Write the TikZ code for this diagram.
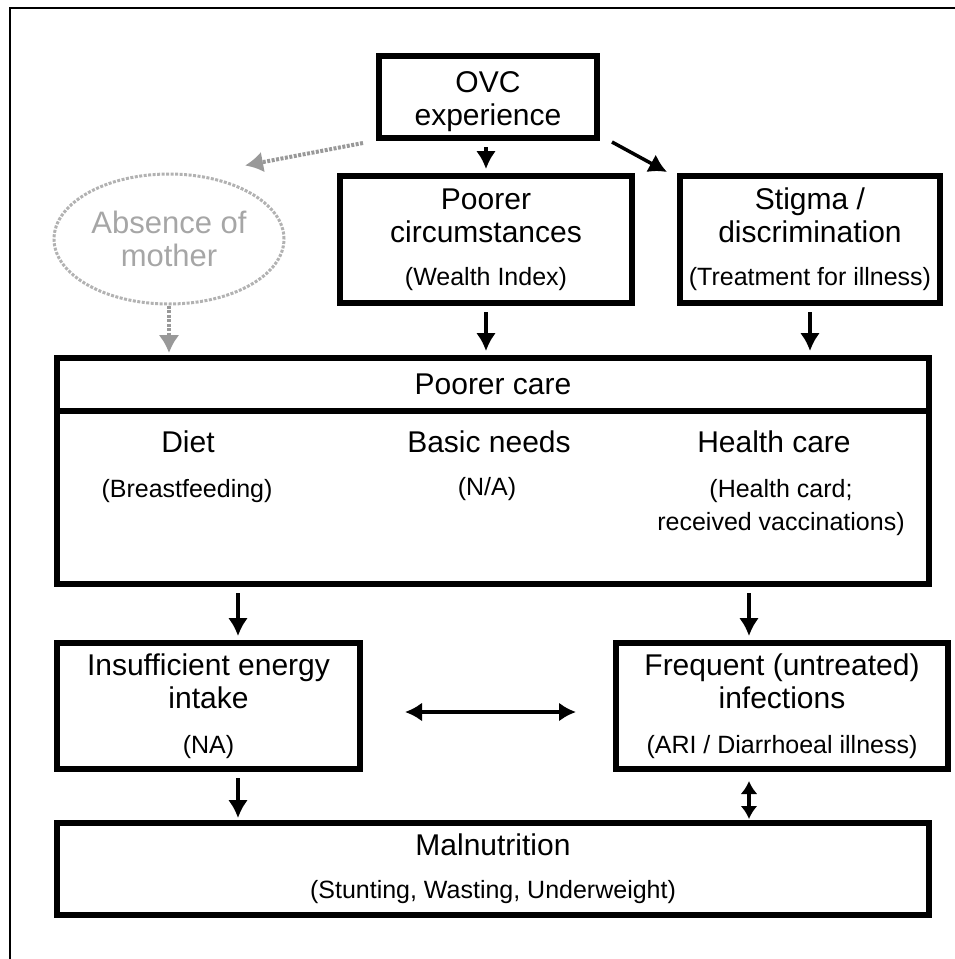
\documentclass[tikz,border=0pt]{standalone}
\usepackage{fontspec}
\setmainfont{Liberation Sans}
\usetikzlibrary{arrows.meta,shapes.geometric}
\newcommand{\notesize}{\fontsize{25}{33}\selectfont}

\begin{document}
\begin{tikzpicture}[
    x=1pt, y=-1pt,
    box/.style={rectangle, draw, line width=6pt, align=center, inner sep=0pt, font=\fontsize{30}{33}\selectfont},
    heading/.style={align=center, inner sep=0pt, font=\fontsize{30}{33}\selectfont},
    subtext/.style={align=center, inner sep=0pt, font=\notesize},
    arrow/.style={-{Latex[length=18pt,width=20pt]}, line width=3.5pt, shorten <=6pt, shorten >=4pt},
    twoway/.style={{Latex[length=17pt,width=19pt]}-{Latex[length=17pt,width=19pt]}, line width=3.5pt},
    faint/.style={-{Latex[length=18pt,width=21pt]}, line width=4pt, gray!80, dash pattern=on 3pt off 1.5pt}
]
    \useasboundingbox (0,0) rectangle (954,959);
    \draw[line width=1.5pt] (10,8) rectangle (980,990);

    % Causes
    \node[box, minimum width=218, minimum height=82] (ovc) at (488,97) {\rule{0pt}{31pt}OVC\\experience};
    \node[box, minimum width=292, minimum height=127] (circ) at (486,239.5) {Poorer\\circumstances\\[10pt]{\notesize(Wealth Index)}};
    \node[box, minimum width=260, minimum height=127] (stigma) at (810,239.5) {Stigma /\\discrimination\\[10pt]{\notesize(Treatment for illness)}};
    \node[ellipse, draw=gray!60, line width=3pt, dash pattern=on 3pt off 1.5pt, minimum width=230, minimum height=130, inner sep=0pt, align=center, text=gray!70, font=\fontsize{31}{33}\selectfont] (mother) at (169,239) {Absence of\\mother};

    % Care
    \node[box, minimum width=872, minimum height=53] (care) at (493,384.5) {Poorer care};
    \node[box, minimum width=872, minimum height=173] (carebody) at (493,497.5) {};
    \node[heading] (diet) at (188,442) {Diet};
    \node[subtext] (dietnote) at (187,491) {(Breastfeeding)};
    \node[heading] (needs) at (489,442) {Basic needs};
    \node[subtext] (needsnote) at (487,489) {(N/A)};
    \node[heading] (health) at (774,442) {Health care};
    \node[subtext] (healthnote) at (781,508) {(Health card;\\received vaccinations)};

    % Outcomes
    \node[box, minimum width=303, minimum height=126] (insuf) at (208.5,706) {Insufficient energy\\intake\\[12pt]{\notesize(NA)}};
    \node[box, minimum width=332, minimum height=126] (freq) at (782,706) {Frequent (untreated)\\infections\\[12pt]{\notesize(ARI / Diarrhoeal illness)}};
    \node[box, minimum width=872, minimum height=92] (maln) at (493,869) {Malnutrition\\[10pt]{\notesize(Stunting, Wasting, Underweight)}};

    \coordinate (dietline) at (238,0);
    \coordinate (healthline) at (749,0);

    % Arrows
    \draw[faint] ([shift={(-13,2)}]ovc.south west) -- ([shift={(76,-7)}]mother.north);
    \draw[faint, shorten >=2pt] (mother.south) -- (mother.south |- care.north);
    \draw[arrow] (ovc.south -| circ.north) -- (circ.north);
    \draw[arrow, shorten <=0pt, shorten >=0pt] ([shift={(12,1)}]ovc.south east) -- ([shift={(-10,-1)}]stigma.north west);
    \draw[arrow] (circ.south) -- (circ.south |- care.north);
    \draw[arrow] (stigma.south) -- (stigma.south |- care.north);
    \draw[arrow] (carebody.south -| dietline) -- (insuf.north -| dietline);
    \draw[arrow] (carebody.south -| healthline) -- (freq.north -| healthline);
    \draw[twoway, shorten <=42pt, shorten >=37pt] ([yshift=-6pt]insuf.east) -- ([yshift=-6pt]freq.west);
    \draw[arrow, shorten >=2pt] (insuf.south -| dietline) -- (maln.north -| dietline);
    \draw[twoway, {Latex[length=13pt,width=17pt]}-{Latex[length=13pt,width=17pt]}, shorten <=9pt, shorten >=1pt] (freq.south -| healthline) -- (maln.north -| healthline);
\end{tikzpicture}
\end{document}
